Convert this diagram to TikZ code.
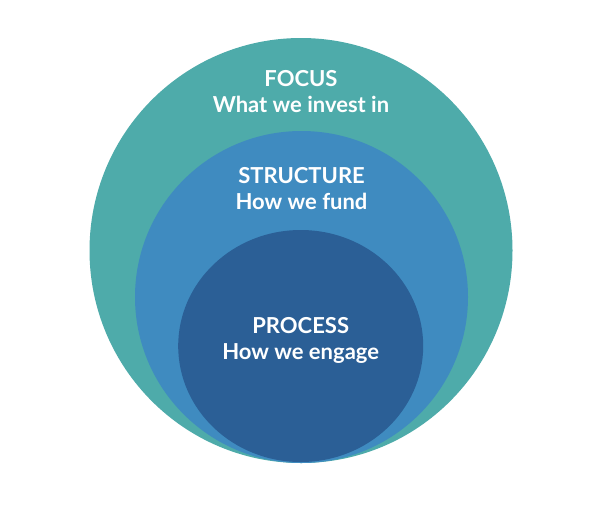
\documentclass[tikz,border=0pt]{standalone}
\usepackage{fontspec}
\setmainfont{Lato}
\usepackage{xcolor}
\usetikzlibrary{shapes.geometric}
\definecolor{focusteal}{RGB}{78,171,170}
\definecolor{fundblue}{RGB}{63,139,192}
\definecolor{engageblue}{RGB}{43,95,150}
\newcommand{\lvl}[2]{#1\\#2}
\begin{document}
\begin{tikzpicture}[x=1pt,y=-1pt,every node/.style={inner sep=0pt}]
 \fill[white] (0,0) rectangle (612,512);
 \useasboundingbox (0,0) rectangle (612,512);

 \draw (301,250.5) node[ellipse,fill=focusteal,minimum width=423pt,minimum height=425pt] (F) {};
 \draw (301.5,297) node[ellipse,fill=fundblue,minimum width=333pt,minimum height=332pt] (S) {};
 \draw (300.7,346) node[ellipse,fill=engageblue,minimum width=245pt,minimum height=232pt] (P) {};

 \draw (301,70.5) node[anchor=north,align=center,text=white,font=\bfseries\fontsize{22}{26}\selectfont] (Flab)
              {\lvl{FOCUS}{What we invest in}};
 \draw (301.5,167.5) node[anchor=north,align=center,text=white,font=\bfseries\fontsize{22}{26}\selectfont] (Slab)
              {\lvl{STRUCTURE}{How we fund}};
 \draw (300.7,317.5) node[anchor=north,align=center,text=white,font=\bfseries\fontsize{22}{26}\selectfont] (Plab)
              {\lvl{PROCESS}{How we engage}};

\end{tikzpicture}
\end{document}
